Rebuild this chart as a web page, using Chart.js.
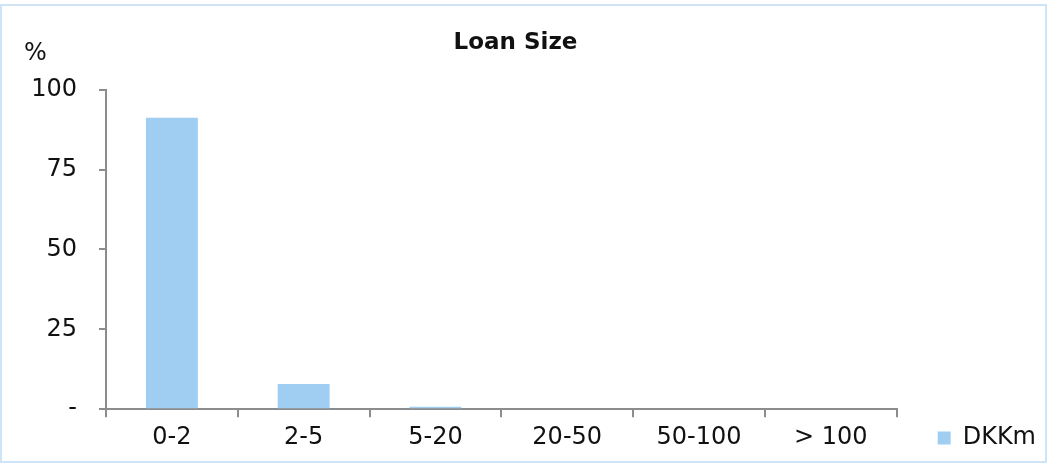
<!DOCTYPE html>
<html>
<head>
<meta charset="utf-8">
<script src="https://cdn.jsdelivr.net/npm/chart.js@4/dist/chart.umd.min.js"></script>
<style>
  body { margin: 0; background: #fff; }
  #wrap {
    position: absolute; left: 0; top: 4px;
    width: 1047px; height: 459px;
    box-sizing: border-box;
    border: 2px solid #cfe4f7;
  }
</style>
</head>
<body>
<div id="wrap"><canvas id="chart" width="1043" height="455"></canvas></div>
<script>
// loan size buckets (DKKm) and share of loans in %
var categories = ["0-2", "2-5", "5-20", "20-50", "50-100", "> 100"];
var shareValues = [91.2, 7.9, 0.8, 0, 0, 0];
var seriesName = "DKKm";
var yTicks = [0, 25, 50, 75, 100];

var FONT = "'DejaVu Sans', sans-serif";
var axisGrey = "#8c8c8c";

// "%" unit label above the y axis, and legend nudged away from the plot
var extras = {
    id: "extras",
    afterLayout: function(chart) {
        var lg = chart.legend;
        var dx = (chart.chartArea.right + 41) - (lg.left + lg.options.labels.padding);
        lg.left += dx;
        lg.right += dx;
        lg.top -= 4;
        lg.bottom -= 4;
    },
    afterDraw: function(chart) {
        var ctx = chart.ctx;
        var area = chart.chartArea;
        ctx.save();
        ctx.font = "24px " + FONT;
        ctx.fillStyle = "#111";
        ctx.textAlign = "left";
        ctx.textBaseline = "middle";
        ctx.fillText("%", area.left - 82, area.top - 36);
        ctx.restore();
    }
};

var ctx = document.getElementById("chart").getContext("2d");
var chart = new Chart(ctx, {
    type: "bar",
    data: {
        labels: categories,
        datasets: [{
            label: seriesName,
            data: shareValues,
            backgroundColor: "#a0cef2",
            borderWidth: 0,
            categoryPercentage: 0.394,
            barPercentage: 1.0
        }]
    },
    options: {
        responsive: false,
        animation: false,
        layout: { padding: { left: 20, right: 36, bottom: 3, top: 0 } },
        plugins: {
            title: {
                display: true,
                text: "Loan Size",
                color: "#111",
                font: { family: FONT, size: 23, weight: "bold" },
                padding: { top: 23, bottom: 33 }
            },
            legend: {
                position: "right",
                align: "end",
                labels: {
                    color: "#111",
                    font: { family: FONT, size: 24 },
                    boxWidth: 13,
                    boxHeight: 13,
                    padding: 4
                }
            },
            tooltip: { enabled: false }
        },
        scales: {
            x: {
                grid: {
                    offset: true,
                    drawOnChartArea: false,
                    drawTicks: true,
                    tickLength: 8,
                    color: axisGrey,
                    lineWidth: 2
                },
                border: { color: axisGrey, width: 2 },
                ticks: {
                    color: "#111",
                    font: { family: FONT, size: 24 },
                    padding: 6,
                    maxRotation: 0
                }
            },
            y: {
                min: 0,
                max: 100,
                afterBuildTicks: function(scale) {
                    scale.ticks = yTicks.map(function(v) { return { value: v }; });
                },
                afterFit: function(scale) { scale.width = 84; },
                grid: {
                    drawOnChartArea: false,
                    drawTicks: true,
                    tickLength: 7,
                    color: axisGrey,
                    lineWidth: 2
                },
                border: { color: axisGrey, width: 2 },
                ticks: {
                    color: "#111",
                    font: { family: FONT, size: 24 },
                    padding: 22,
                    callback: function(v) { return v === 0 ? "-" : v; }
                }
            }
        }
    },
    plugins: [extras]
});
</script>
</body>
</html>
